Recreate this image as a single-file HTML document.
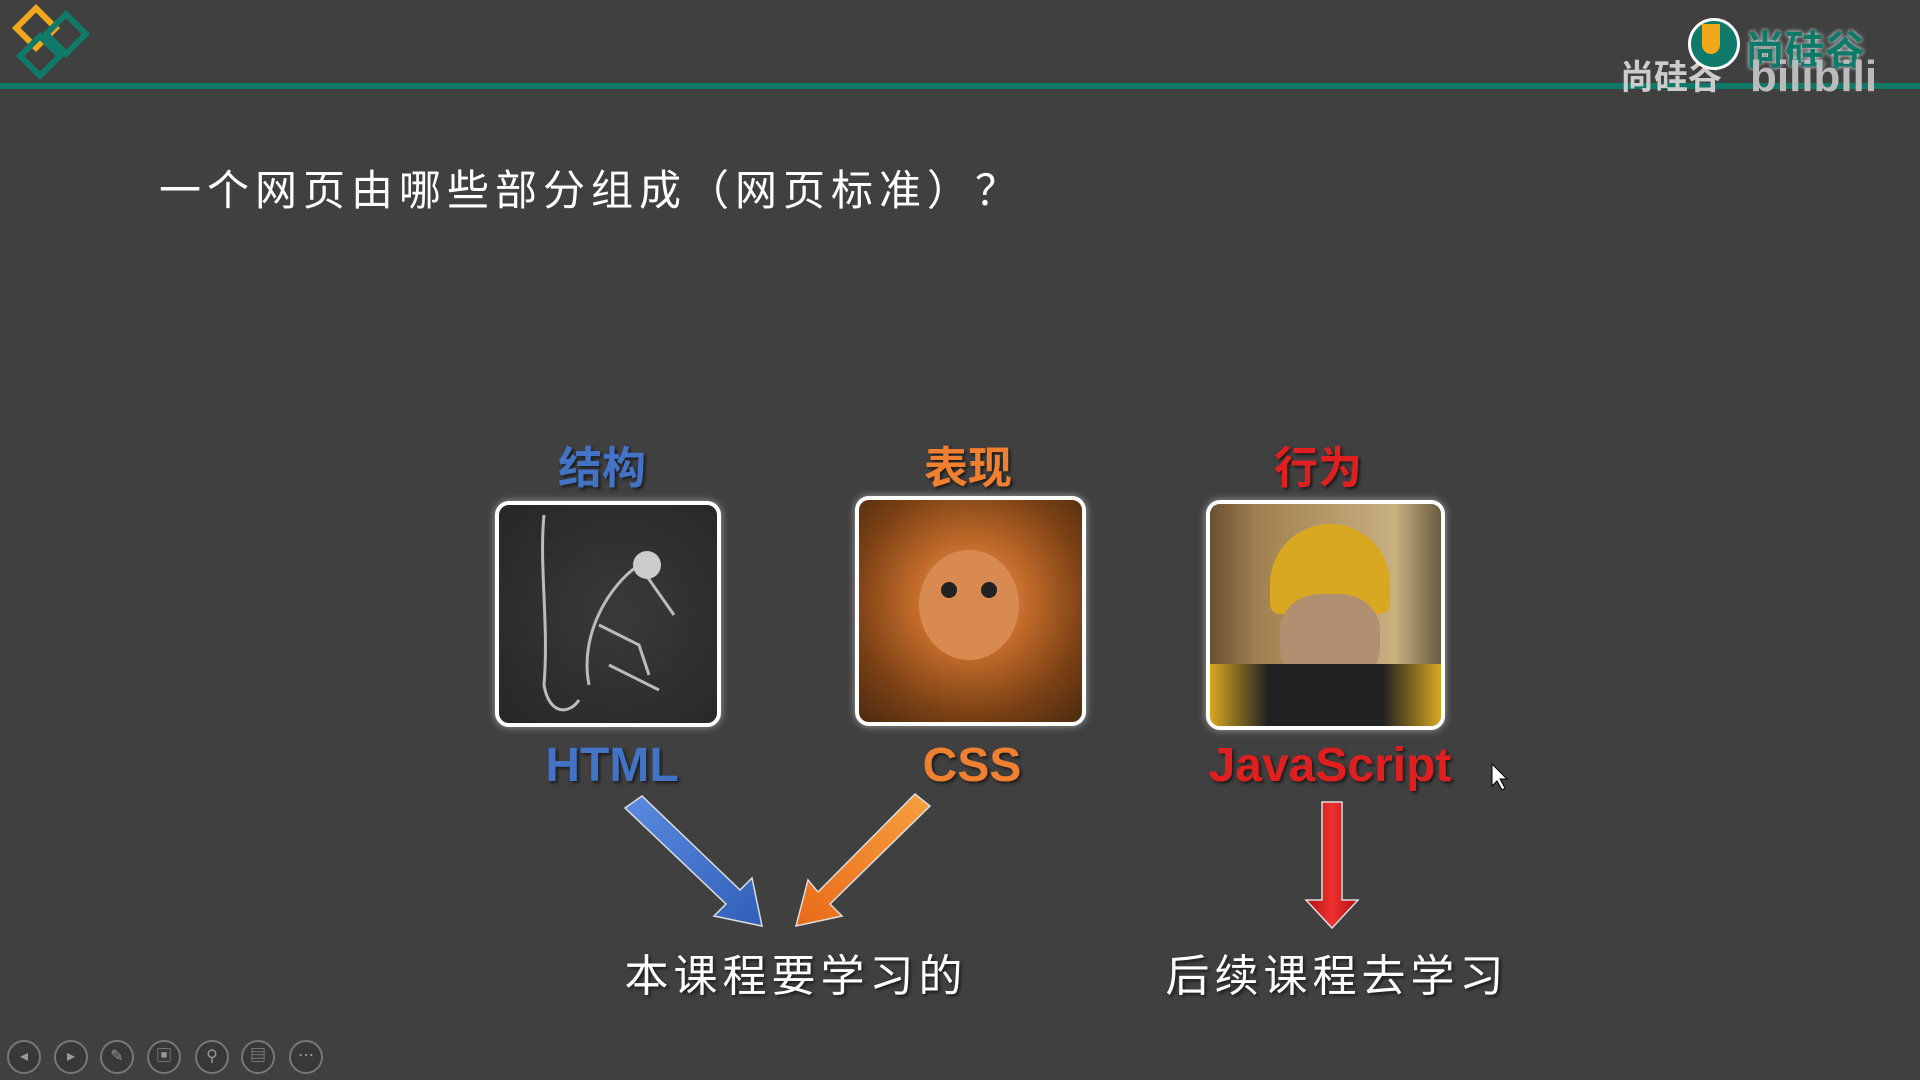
<!DOCTYPE html>
<html><head><meta charset="utf-8"><style>
html,body{margin:0;padding:0}
body{width:1920px;height:1080px;background:#404040;position:relative;overflow:hidden;font-family:"Liberation Sans","Noto Sans CJK SC",sans-serif}
.a{position:absolute}
.t{position:absolute;white-space:nowrap;transform:translateX(-50%);font-weight:bold;text-shadow:2px 2px 3px rgba(0,0,0,.6)}
.box{position:absolute;border:4px solid #fff;border-radius:14px;box-shadow:0 0 8px rgba(255,255,255,.5);overflow:hidden}
.ic{position:absolute;width:30px;height:30px;border:2px solid #777;border-radius:50%;top:1040px;background:#383838;color:#999;font-size:16px;line-height:30px;text-align:center}
</style></head><body>
<div class="a" style="left:0;top:83px;width:1920px;height:6px;background:#0f7a6a"></div>
<svg class="a" style="left:0;top:0" width="100" height="90">
<rect x="22" y="14" width="28" height="28" fill="none" stroke="#f2a81d" stroke-width="6" transform="rotate(45 36 28)"/>
<rect x="52" y="20" width="28" height="28" fill="none" stroke="#0f7a6a" stroke-width="6" transform="rotate(45 66 34)"/>
<rect x="26" y="42" width="28" height="28" fill="none" stroke="#0f7a6a" stroke-width="6" transform="rotate(45 40 56)"/>
</svg>
<div class="a" style="left:1620px;top:50px;font-size:34px;color:#ccc;font-weight:bold">尚硅谷</div>
<div class="a" style="left:1688px;top:18px;width:46px;height:46px;border-radius:50%;background:#0f7a6a;border:3px solid #fff"></div>
<div class="a" style="left:1702px;top:24px;width:18px;height:30px;background:#f2a81d;border-radius:0 0 9px 9px"></div>
<div class="a" style="left:1745px;top:18px;font-size:40px;color:#0f7a6a;font-weight:bold;text-shadow:0 0 4px #fff">尚硅谷</div>
<div class="a" style="left:1750px;top:52px;font-size:44px;color:#bbb;font-weight:bold">bilibili</div>
<div class="a" style="left:159px;top:157px;font-size:42px;color:#fff;letter-spacing:6px">一个网页由哪些部分组成（网页标准）？</div>

<div class="t" style="left:602px;top:432px;font-size:44px;color:#4472c4">结构</div>
<div class="t" style="left:968px;top:432px;font-size:44px;color:#f08030">表现</div>
<div class="t" style="left:1318px;top:432px;font-size:44px;color:#e02020">行为</div>

<div class="box" style="left:495px;top:501px;width:218px;height:218px;background:radial-gradient(circle at 55% 50%,#3a3a3a,#262626)">
<svg width="218" height="218"><g stroke="#bbb" stroke-width="3" fill="none"><path d="M45 10 C40 60 50 120 45 180 C50 210 70 210 80 195"/><path d="M90 180 C80 130 110 80 140 60"/><path d="M140 60 L175 110"/><path d="M110 160 L160 185"/><path d="M100 120 L140 140 L150 170"/></g><circle cx="148" cy="60" r="14" fill="#ccc"/></svg>
</div>
<div class="box" style="left:855px;top:496px;width:223px;height:222px;background:radial-gradient(circle at 50% 45%,#e6a060 0,#c06a2a 35%,#7a4014 70%,#4a2a10 100%)">
<div class="a" style="left:60px;top:50px;width:100px;height:110px;border-radius:50%;background:#d88a50"></div>
<div class="a" style="left:82px;top:82px;width:16px;height:16px;border-radius:50%;background:#222"></div>
<div class="a" style="left:122px;top:82px;width:16px;height:16px;border-radius:50%;background:#222"></div>
</div>
<div class="box" style="left:1206px;top:500px;width:231px;height:222px;background:linear-gradient(90deg,#6a5030,#a08050 20%,#c8b080 80%,#6a5a40)">
<div class="a" style="left:60px;top:20px;width:120px;height:90px;border-radius:60px 60px 10px 10px;background:#d8a820"></div>
<div class="a" style="left:70px;top:90px;width:100px;height:90px;border-radius:40%;background:#b09070"></div>
<div class="a" style="left:0;top:160px;width:231px;height:70px;background:linear-gradient(90deg,#d8a820,#222 25%,#222 75%,#d8a820)"></div>
</div>

<div class="t" style="left:612px;top:738px;font-size:48px;color:#4472c4">HTML</div>
<div class="t" style="left:972px;top:738px;font-size:48px;color:#f08030">CSS</div>
<div class="t" style="left:1330px;top:738px;font-size:48px;color:#e02020">JavaScript</div>

<svg class="a" style="left:0;top:0" width="1920" height="1080">
<defs>
<linearGradient id="gb" x1="0" y1="0" x2="1" y2="1"><stop offset="0" stop-color="#5b8be0"/><stop offset="1" stop-color="#2f5fb8"/></linearGradient>
<linearGradient id="go" x1="1" y1="0" x2="0" y2="1"><stop offset="0" stop-color="#f8a040"/><stop offset="1" stop-color="#e86a18"/></linearGradient>
<linearGradient id="gr" x1="0" y1="0" x2="1" y2="0"><stop offset="0" stop-color="#b01010"/><stop offset=".5" stop-color="#f03030"/><stop offset="1" stop-color="#b01010"/></linearGradient>
</defs>
<polygon points="625,808 642,796 740,890 752,878 762,926 714,916 726,904" fill="url(#gb)" stroke="#ddd" stroke-width="1.5"/>
<polygon points="915,794 930,806 830,904 842,916 796,926 808,880 818,892" fill="url(#go)" stroke="#ddd" stroke-width="1.5"/>
<polygon points="1322,802 1342,802 1342,900 1358,900 1332,928 1306,900 1322,900" fill="url(#gr)" stroke="#ddd" stroke-width="1.5"/>
<polygon points="1492,764 1492,786 1497,781 1502,790 1505,788 1500,779 1507,779" fill="#fff" stroke="#000" stroke-width="1"/>
</svg>

<div class="t" style="left:796px;top:940px;font-size:44px;color:#fff;font-weight:normal;letter-spacing:5px">本课程要学习的</div>
<div class="t" style="left:1337px;top:940px;font-size:44px;color:#fff;font-weight:normal;letter-spacing:5px">后续课程去学习</div>

<div class="ic" style="left:7px">◂</div><div class="ic" style="left:54px">▸</div><div class="ic" style="left:100px">✎</div><div class="ic" style="left:147px">▣</div><div class="ic" style="left:195px">⚲</div><div class="ic" style="left:241px">▤</div><div class="ic" style="left:289px">⋯</div>
</body></html>
